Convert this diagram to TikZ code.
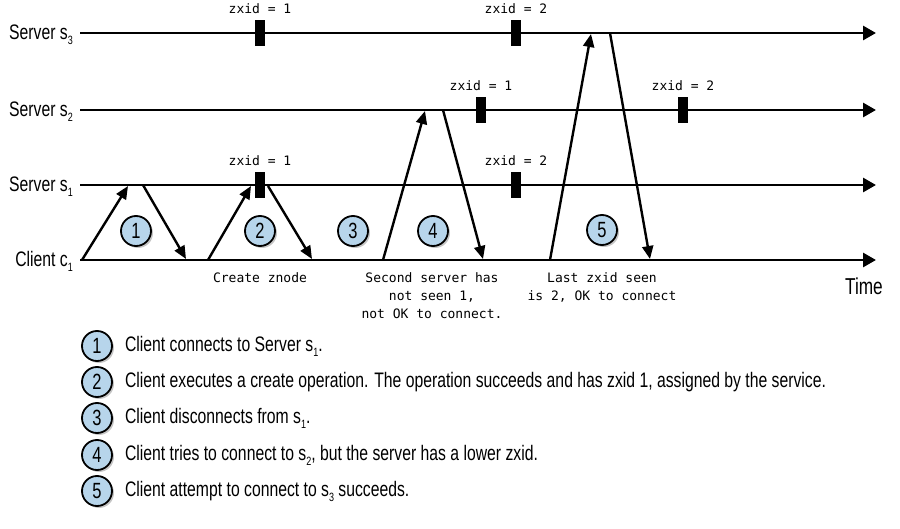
\documentclass[tikz,border=0pt]{standalone}
\usepackage{fontspec}
\setmainfont{Liberation Sans}[FakeStretch=0.75]
\setmonofont{DejaVu Sans Mono}
\usetikzlibrary{arrows.meta,positioning,shadows}
\definecolor{stepblue}{HTML}{B7D5EB}
\newcommand{\lowidx}[1]{\raisebox{-0.45ex}{\fontsize{12}{12}\selectfont #1}}
\tikzstyle{timeline} = [line width=2.8pt, -{Triangle[length=13pt,width=14pt]}]
\tikzstyle{arrow} = [line width=2.4pt, -{Triangle[length=13pt,width=11pt]}]
\tikzstyle{zmark} = [rectangle, fill=black, minimum width=10pt, minimum height=26pt, inner sep=0pt]
\tikzstyle{zlabel} = [font=\ttfamily\fontsize{13}{15}\selectfont, inner sep=0pt]
\tikzstyle{note} = [font=\ttfamily\fontsize{13}{18}\selectfont, align=center, anchor=north, inner sep=0pt]
\tikzstyle{lane} = [font=\fontsize{21}{25}\selectfont, anchor=base east, inner sep=0pt]
\tikzstyle{stepnum} = [circle, draw=black, line width=1.8pt, fill=stepblue, minimum size=30pt, inner sep=0pt, font=\fontsize{22}{22}\selectfont, drop shadow={shadow xshift=2pt, shadow yshift=-2pt, fill=black!45}]
\tikzstyle{legend} = [font=\fontsize{21}{25}\selectfont, anchor=west, inner sep=0pt]

\begin{document}
\begin{tikzpicture}[x=1pt, y=-1pt]
        \useasboundingbox (0,0) rectangle (900,529);
        % time lines
        \node (s3) [lane] at (73,40) {Server s\lowidx{3}};
        \node (s2) [lane] at (73,117) {Server s\lowidx{2}};
        \node (s1) [lane] at (73,192) {Server s\lowidx{1}};
        \node (c1) [lane] at (73,267) {Client c\lowidx{1}};
        \coordinate (s3start) at (80,33);
        \coordinate (s3end) at (876,33);
        \coordinate (s2start) at (80,110);
        \coordinate (s2end) at (876,110);
        \coordinate (s1start) at (80,185);
        \coordinate (s1end) at (876,185);
        \coordinate (c1start) at (80,260);
        \coordinate (c1end) at (876,260);
        \draw [timeline] (s3start) -- (s3end);
        \draw [timeline] (s2start) -- (s2end);
        \draw [timeline] (s1start) -- (s1end);
        \draw [timeline] (c1start) -- (c1end);
        \node (time) [lane, font=\fontsize{23}{27}\selectfont] at (883,295) {Time};
        % zxid markers
        \node (m31) [zmark] at (260,33) {};
        \node (z31) [zlabel, above=6pt of m31] {zxid = 1};
        \node (m32) [zmark] at (516,33) {};
        \node (z32) [zlabel, above=6pt of m32] {zxid = 2};
        \node (m21) [zmark] at (481,110) {};
        \node (z21) [zlabel, above=6pt of m21] {zxid = 1};
        \node (m22) [zmark] at (683,110) {};
        \node (z22) [zlabel, above=6pt of m22] {zxid = 2};
        \node (m11) [zmark] at (260,185) {};
        \node (z11) [zlabel, above=6pt of m11] {zxid = 1};
        \node (m12) [zmark] at (516,185) {};
        \node (z12) [zlabel, above=6pt of m12] {zxid = 2};
        % messages
        \coordinate (a1) at (82,260);
        \coordinate (b1) at (128,186);
        \coordinate (a2) at (143,185);
        \coordinate (b2) at (186,259);
        \coordinate (a3) at (208,260);
        \coordinate (b3) at (251,186);
        \coordinate (a4) at (268,186);
        \coordinate (b4) at (312,259);
        \coordinate (a5) at (383,260);
        \coordinate (b5) at (425,111);
        \coordinate (a6) at (443,110);
        \coordinate (b6) at (483,259);
        \coordinate (a7) at (550,260);
        \coordinate (b7) at (591,34);
        \coordinate (a8) at (610,33);
        \coordinate (b8) at (650,259);
        \draw [arrow] (a1) -- (b1);
        \draw [arrow] (a2) -- (b2);
        \draw [arrow] (a3) -- (b3);
        \draw [arrow] (a4) -- (b4);
        \draw [arrow] (a5) -- (b5);
        \draw [arrow] (a6) -- (b6);
        \draw [arrow] (a7) -- (b7);
        \draw [arrow] (a8) -- (b8);
        % steps
        \node (n1) [stepnum] at (136,231) {1};
        \node (n2) [stepnum] at (260,231) {2};
        \node (n3) [stepnum] at (353,231) {3};
        \node (n4) [stepnum] at (433,231) {4};
        \node (n5) [stepnum] at (602,230) {5};
        \node (note1) [note] at (260,272) {Create znode};
        \node (note2) [note] at (432,272) {Second server has\\not seen 1,\\not OK to connect.};
        \node (note3) [note] at (602,272) {Last zxid seen\\is 2, OK to connect};
        % legend
        \node (k1) [stepnum] at (97,346) {1};
        \node (t1) [legend, right=12pt of k1] {Client connects to Server s\lowidx{1}.};
        \node (k2) [stepnum] at (97,382) {2};
        \node (t2) [legend, right=12pt of k2] {Client executes a create operation. The operation succeeds and has zxid 1, assigned by the service.};
        \node (k3) [stepnum] at (97,418) {3};
        \node (t3) [legend, right=12pt of k3] {Client disconnects from s\lowidx{1}.};
        \node (k4) [stepnum] at (97,455) {4};
        \node (t4) [legend, right=12pt of k4] {Client tries to connect to s\lowidx{2}, but the server has a lower zxid.};
        \node (k5) [stepnum] at (97,491) {5};
        \node (t5) [legend, right=12pt of k5] {Client attempt to connect to s\lowidx{3} succeeds.};
\end{tikzpicture}
\end{document}
